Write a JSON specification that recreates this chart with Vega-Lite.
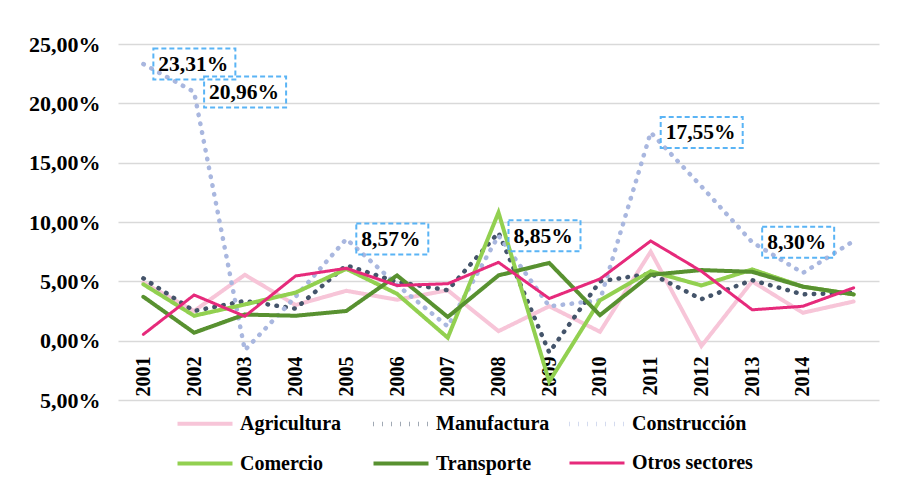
{
  "$schema": "https://vega.github.io/schema/vega-lite/v6.json",
  "width": 761,
  "height": 356,
  "autosize": {"type": "none"},
  "padding": {"left": 118, "top": 44, "right": 25, "bottom": 85},
  "background": "white",
  "config": {
    "view": {"stroke": null},
    "font": "Liberation Serif",
    "legend": {
      "orient": "none",
      "legendX": 57,
      "legendY": 350,
      "direction": "horizontal",
      "columns": 3,
      "gridAlign": "all",
      "columnPadding": 3,
      "rowPadding": -19,
      "symbolType": "stroke",
      "symbolSize": 3025,
      "labelFont": "Liberation Serif",
      "labelFontSize": 20,
      "labelFontWeight": "bold",
      "labelColor": "#000000",
      "labelOffset": 5,
      "labelLimit": 300,
      "title": null
    }
  },
  "datasets": {
    "series": [
      {"Year": "2001", "Sector": "Agricultura", "Value": 4.9},
      {"Year": "2002", "Sector": "Agricultura", "Value": 2.5},
      {"Year": "2003", "Sector": "Agricultura", "Value": 5.55},
      {"Year": "2004", "Sector": "Agricultura", "Value": 3.0},
      {"Year": "2005", "Sector": "Agricultura", "Value": 4.2},
      {"Year": "2006", "Sector": "Agricultura", "Value": 3.45},
      {"Year": "2007", "Sector": "Agricultura", "Value": 4.25},
      {"Year": "2008", "Sector": "Agricultura", "Value": 0.8},
      {"Year": "2009", "Sector": "Agricultura", "Value": 2.9},
      {"Year": "2010", "Sector": "Agricultura", "Value": 0.75},
      {"Year": "2011", "Sector": "Agricultura", "Value": 7.5},
      {"Year": "2012", "Sector": "Agricultura", "Value": -0.45},
      {"Year": "2013", "Sector": "Agricultura", "Value": 5.0},
      {"Year": "2014", "Sector": "Agricultura", "Value": 2.35},
      {"Year": "2015", "Sector": "Agricultura", "Value": 3.3},
      {"Year": "2001", "Sector": "Manufactura", "Value": 5.25},
      {"Year": "2002", "Sector": "Manufactura", "Value": 2.5},
      {"Year": "2003", "Sector": "Manufactura", "Value": 3.35},
      {"Year": "2004", "Sector": "Manufactura", "Value": 2.7},
      {"Year": "2005", "Sector": "Manufactura", "Value": 6.35},
      {"Year": "2006", "Sector": "Manufactura", "Value": 4.95},
      {"Year": "2007", "Sector": "Manufactura", "Value": 4.25},
      {"Year": "2008", "Sector": "Manufactura", "Value": 9.1},
      {"Year": "2009", "Sector": "Manufactura", "Value": -1.0},
      {"Year": "2010", "Sector": "Manufactura", "Value": 5.0},
      {"Year": "2011", "Sector": "Manufactura", "Value": 5.65},
      {"Year": "2012", "Sector": "Manufactura", "Value": 3.5},
      {"Year": "2013", "Sector": "Manufactura", "Value": 5.1},
      {"Year": "2014", "Sector": "Manufactura", "Value": 3.9},
      {"Year": "2015", "Sector": "Manufactura", "Value": 4.05},
      {"Year": "2001", "Sector": "Construcción", "Value": 23.31},
      {"Year": "2002", "Sector": "Construcción", "Value": 20.96},
      {"Year": "2003", "Sector": "Construcción", "Value": -0.8},
      {"Year": "2004", "Sector": "Construcción", "Value": 3.7},
      {"Year": "2005", "Sector": "Construcción", "Value": 8.57},
      {"Year": "2006", "Sector": "Construcción", "Value": 4.7},
      {"Year": "2007", "Sector": "Construcción", "Value": 1.2},
      {"Year": "2008", "Sector": "Construcción", "Value": 8.85},
      {"Year": "2009", "Sector": "Construcción", "Value": 2.9},
      {"Year": "2010", "Sector": "Construcción", "Value": 3.4},
      {"Year": "2011", "Sector": "Construcción", "Value": 17.55},
      {"Year": "2012", "Sector": "Construcción", "Value": 13.0},
      {"Year": "2013", "Sector": "Construcción", "Value": 8.3},
      {"Year": "2014", "Sector": "Construcción", "Value": 5.7},
      {"Year": "2015", "Sector": "Construcción", "Value": 8.4},
      {"Year": "2001", "Sector": "Comercio", "Value": 4.75},
      {"Year": "2002", "Sector": "Comercio", "Value": 2.1},
      {"Year": "2003", "Sector": "Comercio", "Value": 3.05},
      {"Year": "2004", "Sector": "Comercio", "Value": 4.05},
      {"Year": "2005", "Sector": "Comercio", "Value": 6.05},
      {"Year": "2006", "Sector": "Comercio", "Value": 3.95},
      {"Year": "2007", "Sector": "Comercio", "Value": 0.25},
      {"Year": "2008", "Sector": "Comercio", "Value": 10.8},
      {"Year": "2009", "Sector": "Comercio", "Value": -3.45},
      {"Year": "2010", "Sector": "Comercio", "Value": 3.4},
      {"Year": "2011", "Sector": "Comercio", "Value": 5.85},
      {"Year": "2012", "Sector": "Comercio", "Value": 4.65},
      {"Year": "2013", "Sector": "Comercio", "Value": 6.0},
      {"Year": "2014", "Sector": "Comercio", "Value": 4.55},
      {"Year": "2015", "Sector": "Comercio", "Value": 3.9},
      {"Year": "2001", "Sector": "Transporte", "Value": 3.7},
      {"Year": "2002", "Sector": "Transporte", "Value": 0.67},
      {"Year": "2003", "Sector": "Transporte", "Value": 2.2},
      {"Year": "2004", "Sector": "Transporte", "Value": 2.1},
      {"Year": "2005", "Sector": "Transporte", "Value": 2.5},
      {"Year": "2006", "Sector": "Transporte", "Value": 5.5},
      {"Year": "2007", "Sector": "Transporte", "Value": 2.0},
      {"Year": "2008", "Sector": "Transporte", "Value": 5.5},
      {"Year": "2009", "Sector": "Transporte", "Value": 6.55},
      {"Year": "2010", "Sector": "Transporte", "Value": 2.15},
      {"Year": "2011", "Sector": "Transporte", "Value": 5.55},
      {"Year": "2012", "Sector": "Transporte", "Value": 5.95},
      {"Year": "2013", "Sector": "Transporte", "Value": 5.8},
      {"Year": "2014", "Sector": "Transporte", "Value": 4.55},
      {"Year": "2015", "Sector": "Transporte", "Value": 3.9},
      {"Year": "2001", "Sector": "Otros sectores", "Value": 0.53},
      {"Year": "2002", "Sector": "Otros sectores", "Value": 3.85},
      {"Year": "2003", "Sector": "Otros sectores", "Value": 2.05},
      {"Year": "2004", "Sector": "Otros sectores", "Value": 5.45},
      {"Year": "2005", "Sector": "Otros sectores", "Value": 6.1},
      {"Year": "2006", "Sector": "Otros sectores", "Value": 4.65},
      {"Year": "2007", "Sector": "Otros sectores", "Value": 4.8},
      {"Year": "2008", "Sector": "Otros sectores", "Value": 6.6},
      {"Year": "2009", "Sector": "Otros sectores", "Value": 3.55},
      {"Year": "2010", "Sector": "Otros sectores", "Value": 5.2},
      {"Year": "2011", "Sector": "Otros sectores", "Value": 8.4},
      {"Year": "2012", "Sector": "Otros sectores", "Value": 5.85},
      {"Year": "2013", "Sector": "Otros sectores", "Value": 2.6},
      {"Year": "2014", "Sector": "Otros sectores", "Value": 2.9},
      {"Year": "2015", "Sector": "Otros sectores", "Value": 4.45}
    ],
    "notes": [
      {"Year": "2001", "Value": 23.31, "Label": "23,31%"},
      {"Year": "2002", "Value": 20.96, "Label": "20,96%"},
      {"Year": "2005", "Value": 8.57, "Label": "8,57%"},
      {"Year": "2008", "Value": 8.85, "Label": "8,85%"},
      {"Year": "2011", "Value": 17.55, "Label": "17,55%"},
      {"Year": "2013", "Value": 8.3, "Label": "8,30%"}
    ]
  },
  "layer": [
    {
      "data": {"name": "series"},
      "mark": {"type": "line", "strokeCap": "round"},
      "encoding": {
        "x": {
          "field": "Year",
          "type": "ordinal",
          "scale": {"type": "point", "padding": 0.5},
          "axis": {
            "title": null,
            "offset": -59,
            "domain": false,
            "ticks": false,
            "grid": false,
            "labelAngle": 270,
            "labelPadding": 15,
            "labelFont": "Liberation Serif",
            "labelFontSize": 20,
            "labelFontWeight": "bold",
            "labelColor": "#000000",
            "labelExpr": "datum.label == '2015' ? '' : datum.label"
          }
        },
        "y": {
          "field": "Value",
          "type": "quantitative",
          "scale": {"domain": [-5, 25], "nice": false},
          "axis": {
            "title": null,
            "values": [-5, 0, 5, 10, 15, 20, 25],
            "domain": false,
            "ticks": false,
            "grid": true,
            "gridColor": "#D9D9D9",
            "gridWidth": 1.5,
            "labelPadding": 18,
            "labelFont": "Liberation Serif",
            "labelFontSize": 22,
            "labelFontWeight": "bold",
            "labelColor": "#000000",
            "labelExpr": "replace(format(abs(datum.value), '.2f'), '.', ',') + '%'"
          }
        },
        "color": {
          "field": "Sector",
          "type": "nominal",
          "sort": ["Agricultura", "Manufactura", "Construcción", "Comercio", "Transporte", "Otros sectores"],
          "scale": {
            "domain": ["Agricultura", "Manufactura", "Construcción", "Comercio", "Transporte", "Otros sectores"],
            "range": ["#F7C5D8", "#44546A", "#A9B7DF", "#92D050", "#589130", "#E62A7B"]
          }
        },
        "strokeDash": {
          "field": "Sector",
          "type": "nominal",
          "sort": ["Agricultura", "Manufactura", "Construcción", "Comercio", "Transporte", "Otros sectores"],
          "scale": {
            "domain": ["Agricultura", "Manufactura", "Construcción", "Comercio", "Transporte", "Otros sectores"],
            "range": [[1, 0], [0.5, 8.5], [0.5, 8.5], [1, 0], [1, 0], [1, 0]]
          }
        },
        "strokeWidth": {
          "field": "Sector",
          "type": "nominal",
          "sort": ["Agricultura", "Manufactura", "Construcción", "Comercio", "Transporte", "Otros sectores"],
          "scale": {
            "type": "ordinal",
            "domain": ["Agricultura", "Manufactura", "Construcción", "Comercio", "Transporte", "Otros sectores"],
            "range": [4, 4.5, 4.5, 4, 4, 3]
          }
        }
      }
    },
    {
      "data": {"name": "notes"},
      "transform": [{"filter": "datum.Value >= 10"}],
      "mark": {
        "type": "point",
        "shape": "M-1,-0.378H1V0.378H-1Z",
        "size": 6724,
        "filled": false,
        "fill": null,
        "stroke": "#5AB4F5",
        "strokeWidth": 2,
        "strokeDash": [5, 3],
        "opacity": 1,
        "xOffset": 51
      },
      "encoding": {
        "x": {"field": "Year", "type": "ordinal"},
        "y": {"field": "Value", "type": "quantitative"}
      }
    },
    {
      "data": {"name": "notes"},
      "transform": [{"filter": "datum.Value < 10"}],
      "mark": {
        "type": "point",
        "shape": "M-1,-0.43H1V0.43H-1Z",
        "size": 5184,
        "filled": false,
        "fill": null,
        "stroke": "#5AB4F5",
        "strokeWidth": 2,
        "strokeDash": [5, 3],
        "opacity": 1,
        "xOffset": 46
      },
      "encoding": {
        "x": {"field": "Year", "type": "ordinal"},
        "y": {"field": "Value", "type": "quantitative"}
      }
    },
    {
      "data": {"name": "notes"},
      "mark": {
        "type": "text",
        "align": "left",
        "baseline": "middle",
        "dx": 15,
        "dy": 1,
        "font": "Liberation Serif",
        "fontSize": 21.5,
        "fontWeight": "bold",
        "color": "#000000"
      },
      "encoding": {
        "x": {"field": "Year", "type": "ordinal"},
        "y": {"field": "Value", "type": "quantitative"},
        "text": {"field": "Label", "type": "nominal"}
      }
    }
  ]
}
